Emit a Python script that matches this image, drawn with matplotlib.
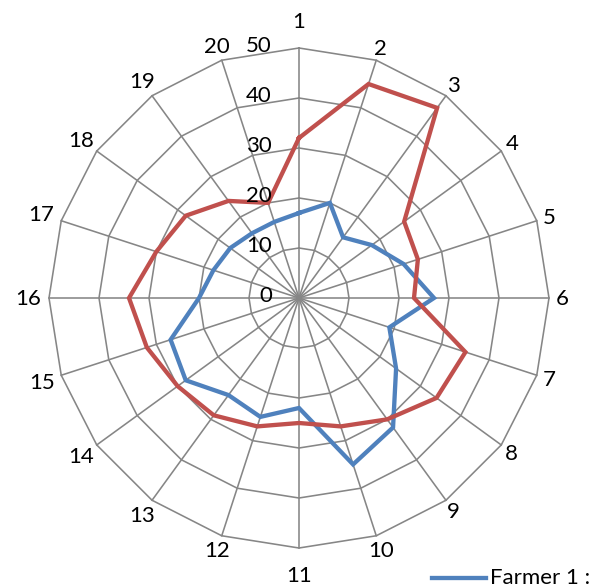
import numpy as np
import matplotlib
matplotlib.use("Agg")
import matplotlib.pyplot as plt
from matplotlib.lines import Line2D

plt.rcParams['font.family'] = ['Lato', 'DejaVu Sans']

# Radar data: 20 assessment criteria, two farmers
categories = [str(i) for i in range(1, 21)]
farmer1 = [17, 20, 15, 18, 22, 27, 19, 24, 32, 35,
           22, 25, 24, 28, 27, 20, 18, 17, 16, 16]
farmer2 = [32, 45, 47, 26, 25, 23, 35, 34, 30, 27,
           25, 27, 29, 30, 32, 34, 30, 28, 24, 20]
ring_ticks = [0, 10, 20, 30, 40, 50]
rmax = 50

blue = '#4F81BD'
red = '#C0504D'
grid_col = '#868686'
fs = 16

W, H = 598, 587
fig = plt.figure(figsize=(W / 100, H / 100), dpi=100)
cx, cy, rad = 299, 298, 250  # centre and outer radius in pixels (from top-left)
ax = fig.add_axes([(cx - rad) / W, (H - cy - rad) / H, 2 * rad / W, 2 * rad / H],
                  projection='polar')
ax.set_theta_zero_location('N')
ax.set_theta_direction(-1)
ax.set_ylim(0, rmax)
ax.grid(False)
ax.spines['polar'].set_visible(False)
ax.set_xticks([])
ax.set_yticks([])
ax.patch.set_alpha(0)

n = len(categories)
theta = np.arange(n) * 2 * np.pi / n
theta_closed = np.append(theta, theta[0])

# polygon rings and spokes
for r in ring_ticks[1:]:
    ax.plot(theta_closed, [r] * (n + 1), color=grid_col, lw=1.15, zorder=1,
            clip_on=False)
for t in theta:
    ax.plot([t, t], [0, rmax], color=grid_col, lw=1.15, zorder=1, clip_on=False)

# series
for vals, col in [(farmer1, blue), (farmer2, red)]:
    v = np.append(vals, vals[0])
    ax.plot(theta_closed, v, color=col, lw=3.1, zorder=3, clip_on=False,
            solid_joinstyle='miter')

# radial value labels along the first spoke
for r in ring_ticks:
    ax.annotate(str(r), xy=(0, r), xytext=(-27, 2), textcoords='offset pixels',
                ha='right', va='center', fontsize=fs, color='black', zorder=4)

# category labels around the outside
for t, lab in zip(theta, categories):
    s, c = np.sin(t), np.cos(t)
    r_px = 263 + 8 * (len(lab) - 1) * abs(s)
    if abs(s) < 1e-6:
        r_px += 14
    ax.annotate(lab, xy=(0, 0), xytext=(r_px * s, r_px * c - 1),
                textcoords='offset pixels', ha='center', va='center',
                fontsize=fs, color='black', annotation_clip=False)

# legend entry at the bottom right
ly = 1 - 578 / H
fig.add_artist(Line2D([432 / W, 486 / W], [ly, ly], color=blue, lw=3.1,
                      transform=fig.transFigure))
fig.text(490 / W, ly, 'Farmer 1 :', ha='left', va='center', fontsize=fs)

fig.savefig('out.png', dpi=100)
